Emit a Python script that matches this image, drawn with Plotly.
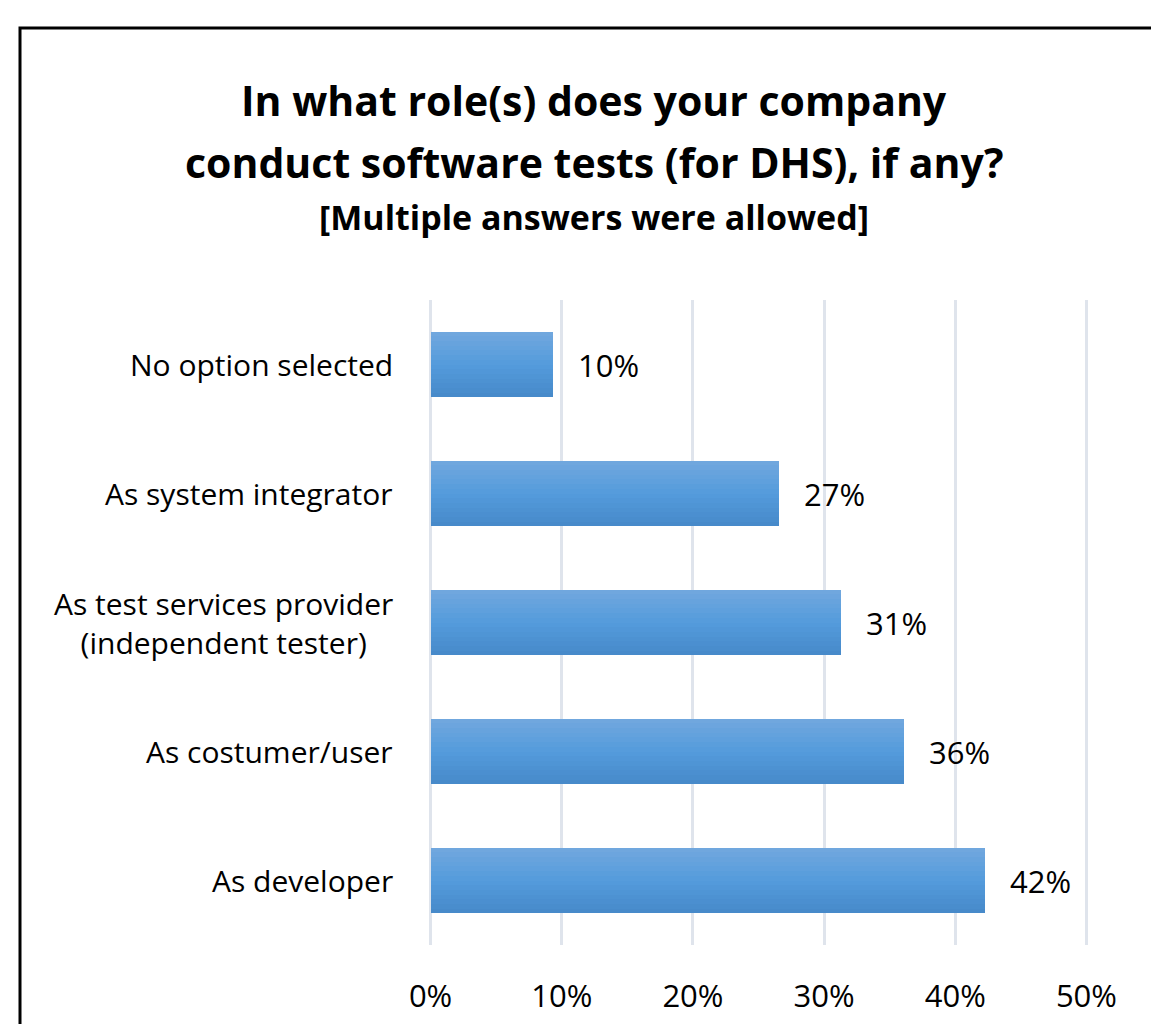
import plotly.graph_objects as go

categories = ["No option selected", "As system integrator",
              "As test services provider<br>(independent tester)",
              "As costumer/user", "As developer"]
values = [9.3, 26.6, 31.3, 36.1, 42.3]
value_labels = ["10%", "27%", "31%", "36%", "42%"]
x_ticks = [0, 10, 20, 30, 40, 50]
x_tick_labels = ["0%", "10%", "20%", "30%", "40%", "50%"]

W, H = 1151, 1024
L, R, T, B = 429, 63, 300, 79
FONT = "Open Sans"

fig = go.Figure()

# vertical gradient simulated by thin strips
top = (114, 168, 222)
mid = (84, 155, 220)
bot = (70, 137, 201)
N = 14
bw = 0.51
for i in range(N):
    t = (i + 0.5) / N
    if t < 0.5:
        a = t / 0.5
        c = tuple(round(top[k] + (mid[k] - top[k]) * a) for k in range(3))
    else:
        a = (t - 0.5) / 0.5
        c = tuple(round(mid[k] + (bot[k] - mid[k]) * a) for k in range(3))
    fig.add_trace(go.Bar(
        y=categories, x=values, orientation="h",
        width=bw / N * 1.02, offset=-bw / 2 + i * bw / N,
        marker=dict(color="rgb(%d,%d,%d)" % c, line=dict(width=0)),
        showlegend=False, hoverinfo="skip"))

for cat, v, lab in zip(categories, values, value_labels):
    fig.add_annotation(x=v, y=cat, xref="x", yref="y", text=lab,
                       showarrow=False, xanchor="left", xshift=23,
                       font=dict(family=FONT, size=31, color="black"))
    fig.add_annotation(x=0, y=cat, xref="paper", yref="y", text=cat,
                       showarrow=False, xanchor="right", align="center",
                       xshift=-34,
                       font=dict(family=FONT, size=30, color="black"))

pw = W - L - R
ph = H - T - B
cx = (594 - L) / pw
fig.add_annotation(x=cx, y=(H - B - 100) / ph, xref="paper", yref="paper",
                   text="<b>In what role(s) does your company</b>",
                   showarrow=False, xanchor="center", yanchor="middle",
                   font=dict(family=FONT, size=41, color="black"))
fig.add_annotation(x=cx, y=(H - B - 162) / ph, xref="paper", yref="paper",
                   text="<b>conduct software tests (for DHS), if any?</b>",
                   showarrow=False, xanchor="center", yanchor="middle",
                   font=dict(family=FONT, size=41, color="black"))
fig.add_annotation(x=cx, y=(H - B - 217) / ph, xref="paper", yref="paper",
                   text="<b>[Multiple answers were allowed]</b>",
                   showarrow=False, xanchor="center", yanchor="middle",
                   font=dict(family=FONT, size=34, color="black"))

# outer frame
fig.add_shape(type="rect", xref="paper", yref="paper",
              x0=(20 - L) / pw, x1=(W + 20 - L) / pw,
              y0=(H - B - (H + 20)) / ph, y1=(H - B - 28) / ph,
              line=dict(color="black", width=3), fillcolor="rgba(0,0,0,0)",
              layer="below")

fig.update_layout(
    width=W, height=H,
    margin=dict(l=L, r=R, t=T, b=B, autoexpand=False),
    barmode="overlay",
    bargap=0,
    plot_bgcolor="white", paper_bgcolor="white",
    hovermode=False,
    xaxis=dict(range=[-0.12, 50.12], tickvals=x_ticks, ticktext=x_tick_labels,
               showgrid=True, gridcolor="#dfe4ec", gridwidth=3,
               zeroline=False, showline=False, ticks="",
               ticklabelstandoff=30, automargin=False,
               tickfont=dict(family=FONT, size=31, color="black"),
               fixedrange=True),
    yaxis=dict(autorange="reversed", showticklabels=False, showgrid=False,
               zeroline=False, showline=False, ticks="", fixedrange=True,
               automargin=False, range=[4.5, -0.5]),
)

fig.write_html("out.html")
